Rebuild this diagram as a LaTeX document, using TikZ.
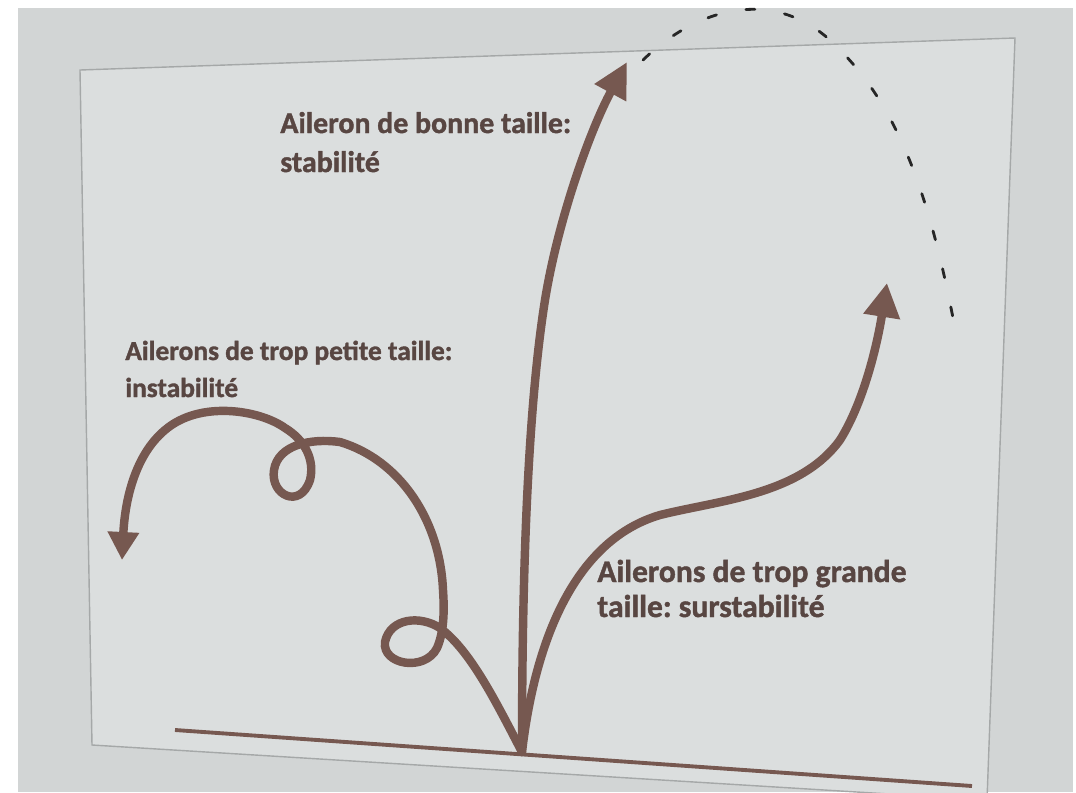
\documentclass[tikz,border=0pt]{standalone}
\usepackage{fontspec}
\setmainfont{Carlito}[BoldFeatures={FakeBold=1.3}]
\usetikzlibrary{arrows.meta}
\frenchspacing

\definecolor{brun}{RGB}{118,88,80}
\definecolor{texte}{RGB}{88,70,66}
\definecolor{fond}{RGB}{210,213,213}
\definecolor{diapo}{RGB}{219,222,222}
\definecolor{cadre}{RGB}{165,168,168}

\tikzset{
	trajet/.style={draw=brun, line width=4.8pt, line cap=round},
	etiquette/.style={text=texte, font=\bfseries\fontsize{#1}{#1}\selectfont, inner sep=0pt, anchor=base west},
	pointille/.style={draw=black!85, line width=1.6pt, line cap=round, dash pattern=on 0.18cm off 0.6cm},
}

\begin{document}
\begin{tikzpicture}[x=0.02cm, y=-0.02cm]
			
			\useasboundingbox (0,0) rectangle (1076,792);
			\fill[white] (0,0) rectangle (1076,792);
			\fill[fond] (18,8) rectangle (1073,792);
			\filldraw[fill=diapo, draw=cadre, line width=0.8pt] (80,70) -- (1015,38) -- (987,800) -- (92,745) -- cycle;

			\coordinate (depart) at (522,752);
\coordinate (sol gauche) at (175,730);
\coordinate (sol droit) at (972,786);
\coordinate (fin bonne) at (627,62);
\coordinate (fin grande) at (887,283);
\coordinate (fin petite) at (122,560);

			\draw[draw=brun, line width=2.2pt] (sol gauche) -- (sol droit);

			% stabilite
			\draw[trajet, -{Triangle[length=0.7cm, width=0.68cm]}] (depart) .. controls (522,600) and (526,420) .. (545,300) .. controls (558,220) and (590,130) .. (fin bonne);
			\draw[pointille] (643,60) .. controls (700,5) and (780,-15) .. (840,50) .. controls (900,110) and (930,200) .. (953,318);

			% surstabilite
			\draw[trajet, -{Triangle[length=0.68cm, width=0.7cm]}] (depart) .. controls (535,640) and (575,540) .. (660,515) .. controls (720,500) and (800,495) .. (840,440) .. controls (865,400) and (878,340) .. (fin grande);

			% instabilite
			\draw[trajet, -{Triangle[length=0.56cm, width=0.6cm]}] (depart) .. controls (495,700) and (470,650) .. (440,628) .. controls (420,615) and (390,618) .. (385,642) .. controls (382,665) and (425,672) .. (437,648) .. controls (445,630) and (444,605) .. (443,590) .. controls (440,520) and (400,460) .. (340,442) .. controls (310,438) and (278,445) .. (274,470) .. controls (270,495) and (300,510) .. (310,480) .. controls (315,460) and (305,440) .. (285,428) .. controls (260,410) and (200,400) .. (165,430) .. controls (135,455) and (125,500) .. (fin petite);

			\node[etiquette=17] (bonne1) at (280,133) {Aileron de bonne taille:};
\node[etiquette=17] (bonne2) at (280,172) {stabilité};
\node[etiquette=15.6] (petite1) at (125,360) {Ailerons de trop petite taille:};
\node[etiquette=15.6] (petite2) at (125,397) {instabilité};
\node[etiquette=18] (grande1) at (597,582) {Ailerons de trop grande};
\node[etiquette=18] (grande2) at (597,617) {taille: surstabilité};

			
		\end{tikzpicture}
\end{document}
